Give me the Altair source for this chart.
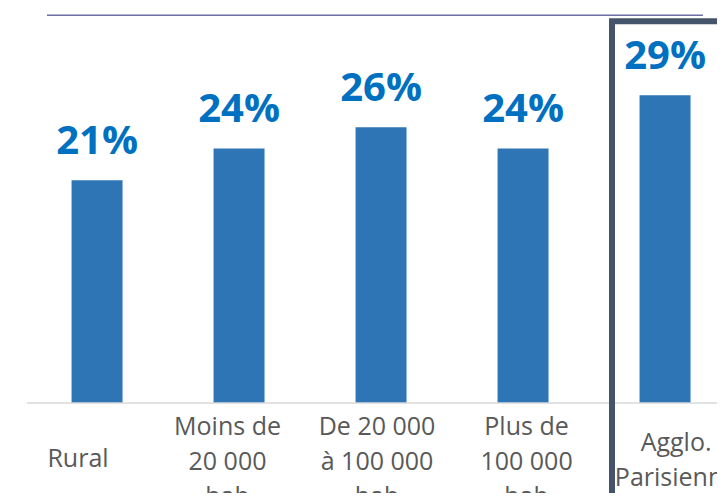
import altair as alt
import pandas as pd

categories = ["Rural", "Moins de\n20 000\nhab", "De 20 000\nà 100 000\nhab",
              "Plus de\n100 000\nhab", "Agglo.\nParisienne"]
values = [21, 24, 26, 24, 29]
value_labels = ["21%", "24%", "26%", "24%", "29%"]

df = pd.DataFrame({"cat": categories, "val": values, "lab": value_labels})

W, H = 709, 485

band_scale = alt.Scale(type="band", domain=categories, paddingInner=0.641,
                       paddingOuter=0.317, align=0.706)
y_scale = alt.Scale(domain=[-8.48, 37.23], nice=False, zero=False)

base = alt.Chart(df)

bars = base.mark_bar(color="#2E75B6").encode(
    x=alt.X("cat:N", scale=band_scale, axis=None, sort=categories),
    y=alt.Y("val:Q", scale=y_scale, axis=None),
    y2=alt.datum(0),
)

val_text = base.mark_text(
    font="Open Sans", fontWeight="bold", fontSize=40, color="#0070C0",
    baseline="alphabetic", align="center", dy=-26,
).encode(
    x=alt.X("cat:N", scale=band_scale, axis=None, sort=categories),
    y=alt.Y("val:Q", scale=y_scale, axis=None),
    text="lab:N",
)

bar_layer = alt.layer(bars, val_text)

baseline_rule = alt.Chart(alt.Data(values=[{}])).mark_rule(
    color="#D9D9D9", strokeWidth=1.5
).encode(
    x=alt.value(19), x2=alt.value(W + 20), y=alt.value(395),
)

top_rule = alt.Chart(alt.Data(values=[{}])).mark_rule(
    color="#6F6DA5", strokeWidth=1.5
).encode(
    x=alt.value(39), x2=alt.value(695), y=alt.value(7.3),
)

frame = alt.Chart(alt.Data(values=[{}])).mark_rect(
    fillOpacity=0, stroke="#44546A", strokeWidth=6
).encode(
    x=alt.value(604), x2=alt.value(W + 60),
    y=alt.value(13.3), y2=alt.value(H + 60),
)

cat_text = base.transform_calculate(
    nlines="length(split(datum.cat, '\\n'))"
).transform_calculate(
    ypix="451 - (datum.nlines - 1) * 16"
).mark_text(
    font="Open Sans", fontSize=25, color="#595959", lineBreak="\n",
    lineHeight=35, baseline="middle", align="center",
).encode(
    x=alt.X("cat:N", scale=alt.Scale(type="point", domain=categories, padding=0.371, align=0.631),
            axis=None, sort=categories),
    y=alt.Y("ypix:Q", scale=None, axis=None),
    text="cat:N",
)

chart = alt.layer(
    bar_layer, baseline_rule, top_rule, frame, cat_text
).resolve_scale(x="independent", y="independent").properties(
    width=W, height=H,
    autosize=alt.AutoSizeParams(type="none"),
    padding=0,
).configure_view(stroke=None)

chart.save("out.html", embed_options={"renderer": "svg", "actions": False})
